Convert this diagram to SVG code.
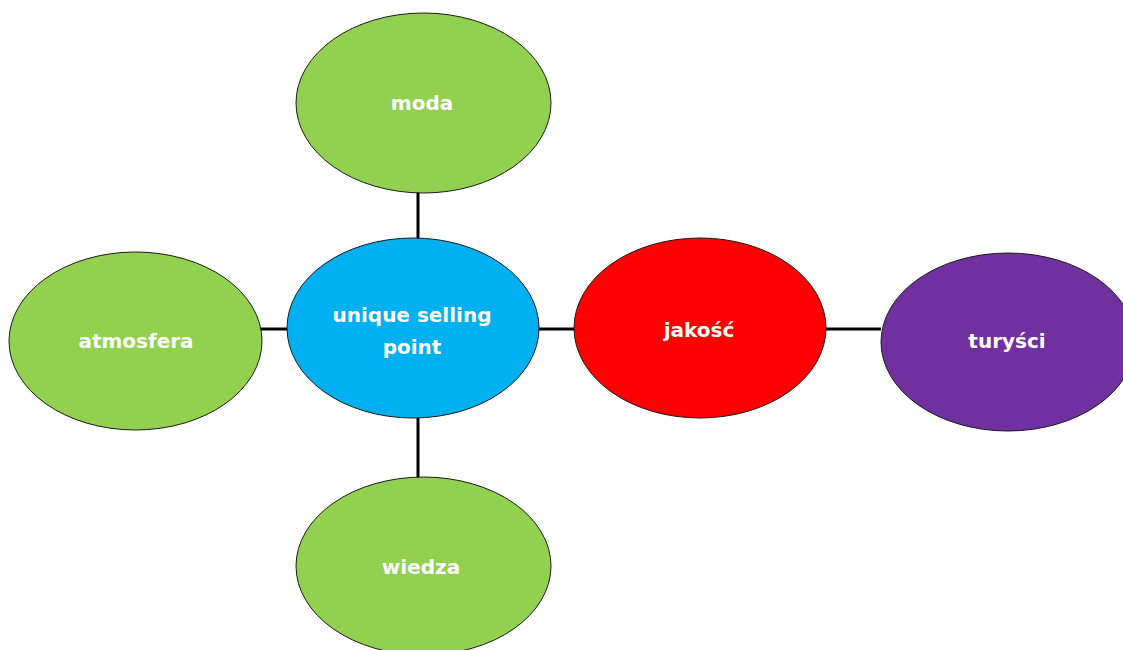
<svg xmlns="http://www.w3.org/2000/svg" width="1123" height="650" viewBox="0 0 1123 650">
<style>
.node{stroke:#1a1a1a;stroke-width:1}
.lbl{font-family:"DejaVu Sans","Liberation Sans",sans-serif;font-weight:bold;font-size:20px;fill:#ffffff;text-anchor:middle}
.conn{stroke:#000;stroke-width:3;fill:none}
</style>
<rect width="1123" height="650" fill="#ffffff"/>
<g id="connectors">
<line class="conn" x1="418" y1="192" x2="418" y2="239"/>
<line class="conn" x1="418" y1="417" x2="418" y2="478"/>
<line class="conn" x1="261" y1="329" x2="288" y2="329"/>
<line class="conn" x1="539" y1="329" x2="575" y2="329"/>
<line class="conn" x1="826" y1="329" x2="881" y2="329"/>
</g>
<g id="moda">
<ellipse class="node" cx="423.5" cy="103" rx="127.5" ry="90" fill="#92D050"/>
<text class="lbl" x="422" y="110">moda</text>
</g>
<g id="atmosfera">
<ellipse class="node" cx="135.5" cy="341" rx="126.5" ry="89" fill="#92D050"/>
<text class="lbl" x="136" y="348">atmosfera</text>
</g>
<g id="usp">
<ellipse class="node" cx="413" cy="328" rx="126" ry="90" fill="#00B0F0"/>
<text class="lbl" x="412" y="322">unique selling</text>
<text class="lbl" x="412" y="354">point</text>
</g>
<g id="jakosc">
<ellipse class="node" cx="700" cy="328" rx="126" ry="90" fill="#FF0000"/>
<text class="lbl" x="699" y="337">jakość</text>
</g>
<g id="turysci">
<ellipse class="node" cx="1008" cy="342" rx="127" ry="89" fill="#7030A0"/>
<text class="lbl" x="1007" y="348">turyści</text>
</g>
<g id="wiedza">
<ellipse class="node" cx="423.5" cy="566" rx="127.5" ry="89" fill="#92D050"/>
<text class="lbl" x="421" y="574">wiedza</text>
</g>
</svg>
